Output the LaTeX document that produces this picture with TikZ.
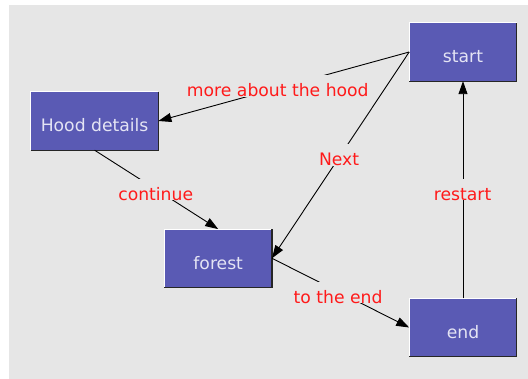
\documentclass[tikz,border=0pt]{standalone}
\usepackage{fontspec}
\setmainfont{DejaVu Sans}
\usetikzlibrary{arrows.meta}
\definecolor{bg}{HTML}{E6E6E6}
\definecolor{boxfill}{HTML}{5A5AB4}
\definecolor{boxtext}{HTML}{E4E4F4}
\definecolor{lblred}{HTML}{FF1A1A}
\begin{document}
\begin{tikzpicture}[x=1pt,y=-1pt,
  font=\fontsize{17.2}{20}\selectfont,
  box/.style={rectangle, fill=boxfill, text=boxtext, minimum height=58pt,
    minimum width=107.2pt, text height=22pt, text depth=0pt, inner sep=0pt},
  edge/.style={draw=black, line width=0.9pt, -{Triangle[length=13pt,width=9pt]}},
  lbl/.style={text=lblred, fill=bg, inner xsep=0pt, inner ysep=0pt,
    text height=21.5pt, text depth=0pt, anchor=base, yshift=-10.5pt, pos=0.5}]
\useasboundingbox (0,0) rectangle (528,379);
\fill[white] (0,0) rectangle (528,379);
\fill[bg] (9,5) rectangle (528,379);

\node[box] (start) at (463,52) {start};
\node[box, minimum width=127.2pt] (hood) at (94.6,121) {Hood details};
\node[box] (forest) at (218.2,258.3) {forest};
\node[box] (end) at (463,327.5) {end};

\foreach \n in {start,hood,forest,end}{
  \draw[white, line width=1pt] (\n.south west) -- (\n.north west) -- (\n.north east);
  \draw[black!85, line width=1.2pt] (\n.north east) -- (\n.south east) -- (\n.south west);
}

\draw[edge] (start.west) -- (hood.east) node[lbl, xshift=-6pt] {more about the hood};
\draw[edge] (start.west) -- (forest.east) node[lbl, xshift=-1.5pt] {Next};
\draw[edge] (hood.south) -- (forest.north) node[lbl, xshift=-0.7pt] {continue};
\draw[edge] (forest.east) -- (end.west) node[lbl, xshift=-2.5pt] {to the end};
\draw[edge] (end.north) -- (start.south) node[lbl, xshift=-0.4pt] {restart};
\end{tikzpicture}
\end{document}
